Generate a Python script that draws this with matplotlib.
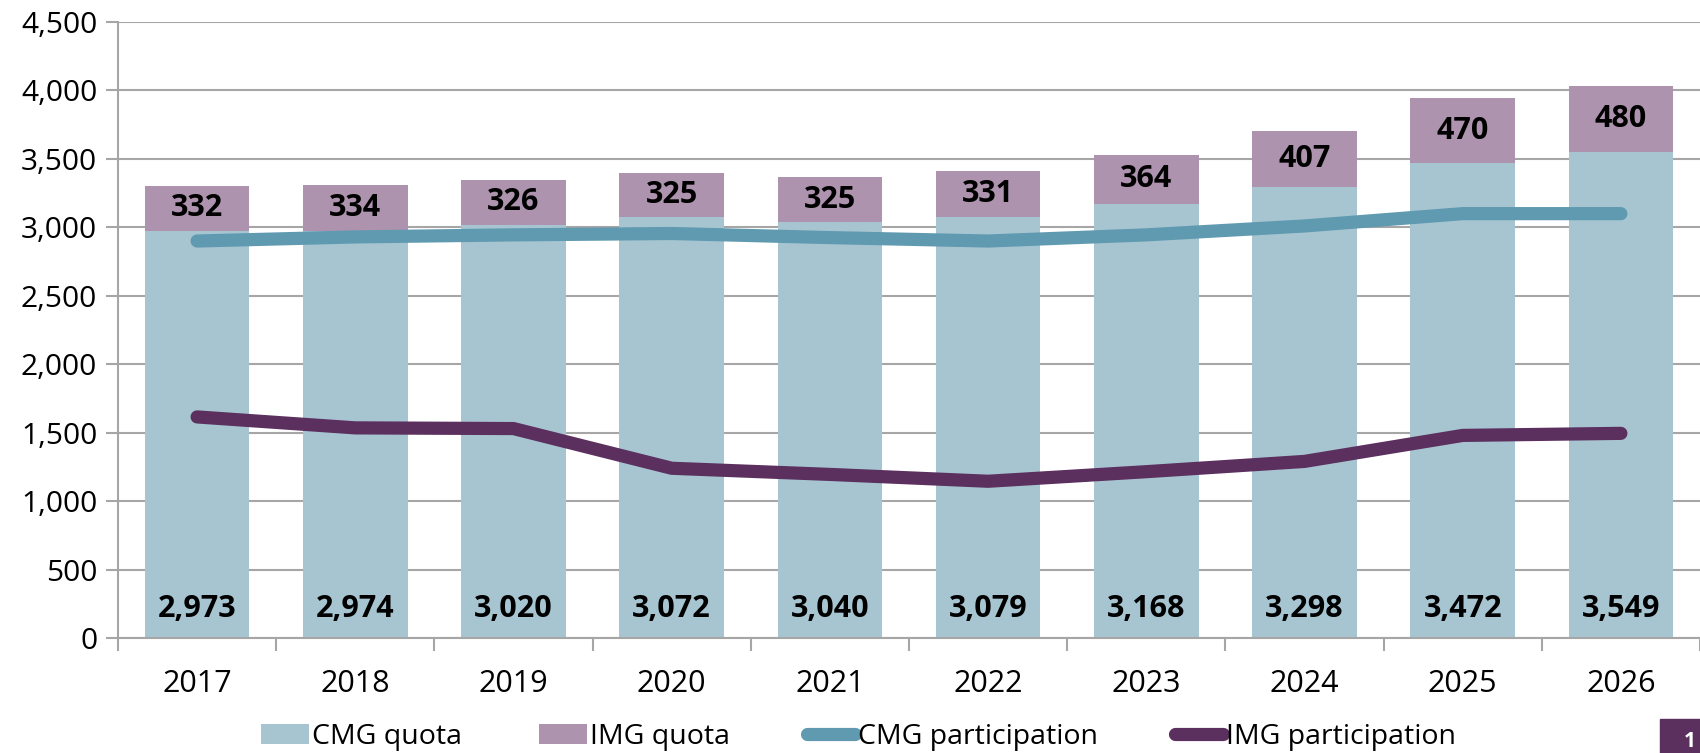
import numpy as np
import matplotlib.pyplot as plt
from matplotlib.patches import Rectangle

plt.rcParams['font.family'] = ['Open Sans', 'DejaVu Sans']

# Data
years = ['2017', '2018', '2019', '2020', '2021', '2022', '2023', '2024', '2025', '2026']
cmg_quota = [2973, 2974, 3020, 3072, 3040, 3079, 3168, 3298, 3472, 3549]
img_quota = [332, 334, 326, 325, 325, 331, 364, 407, 470, 480]
cmg_participation = [2900, 2930, 2945, 2955, 2925, 2900, 2945, 3010, 3100, 3100]
img_participation = [1615, 1535, 1530, 1240, 1195, 1145, 1215, 1290, 1480, 1495]

# Colours
c_cmg_bar = '#A7C5D1'
c_img_bar = '#AD93AE'
c_cmg_line = '#5F9AB0'
c_img_line = '#5B2F5E'

fig = plt.figure(figsize=(17, 7.53), dpi=100)
ax = fig.add_axes([118 / 1700, 1 - 638 / 753, 1 - 118 / 1700, (638 - 22) / 753])

x = np.arange(len(years))
w = 0.66
b1 = ax.bar(x, cmg_quota, w, color=c_cmg_bar, label='CMG quota', zorder=2)
b2 = ax.bar(x, img_quota, w, bottom=cmg_quota, color=c_img_bar, label='IMG quota', zorder=2)
l1, = ax.plot(x, cmg_participation, color=c_cmg_line, lw=9.5, solid_capstyle='round',
              solid_joinstyle='round', label='CMG participation', zorder=3)
l2, = ax.plot(x, img_participation, color=c_img_line, lw=9.5, solid_capstyle='round',
              solid_joinstyle='round', label='IMG participation', zorder=3)

# Data labels
for i in range(len(years)):
    ax.text(x[i], 215, f'{cmg_quota[i]:,}', ha='center', va='center',
            fontsize=22, fontweight='bold', zorder=4)
    ax.text(x[i], cmg_quota[i] + img_quota[i] / 2, f'{img_quota[i]:,}', ha='center',
            va='center', fontsize=22, fontweight='bold', zorder=4)

ax.set_xlim(-0.5, len(years) - 0.5)
ax.set_ylim(0, 4500)
ax.set_yticks(np.arange(0, 4501, 500))
ax.set_yticklabels([f'{v:,}' for v in range(0, 4501, 500)], fontsize=21.5)
ax.yaxis.grid(True, color='#A6A6A6', lw=1.5, zorder=0)
ax.set_axisbelow(True)

# category boundaries as major ticks, labels on minor ticks
ax.set_xticks(np.arange(-0.5, len(years), 1))
ax.set_xticklabels([])
ax.set_xticks(x, minor=True)
ax.set_xticklabels(years, minor=True, fontsize=22)
ax.tick_params(axis='x', which='major', length=9, width=1.5, color='#A6A6A6', direction='out')
ax.tick_params(axis='x', which='minor', length=0, pad=22)
ax.tick_params(axis='y', length=9, width=1.5, color='#A6A6A6', pad=6)

for s in ['top', 'right']:
    ax.spines[s].set_visible(False)
for s in ['left', 'bottom']:
    ax.spines[s].set_color('#A6A6A6')
    ax.spines[s].set_linewidth(1.5)

fig.legend([b1, b2, l1, l2], ['CMG quota', 'IMG quota', 'CMG participation', 'IMG participation'],
           loc='center', bbox_to_anchor=(0.505, 1 - 737 / 753), ncol=4, frameon=False,
           fontsize=20.5, handlelength=1.7, handletextpad=0.1, columnspacing=2.7,
           handleheight=0.7)

# page badge at bottom right
fig.patches.append(Rectangle((1660 / 1700, 0), 40 / 1700, 34 / 753,
                             transform=fig.transFigure, color=c_img_line, zorder=5))
fig.text(1684 / 1700, 6 / 753, '1', color='white', fontsize=15, fontweight='bold', zorder=6)

fig.savefig('out.png', dpi=100)
